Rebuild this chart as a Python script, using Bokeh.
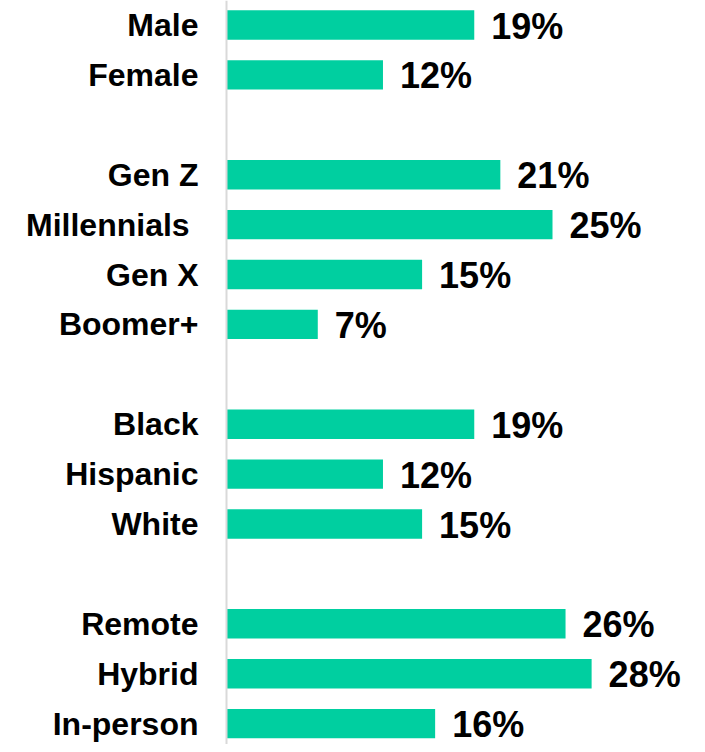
from bokeh.plotting import figure
from bokeh.models import ColumnDataSource, Range1d, Span
from bokeh.core.properties import value
from bokeh.embed import file_html
from bokeh.resources import INLINE

gender = ["Male", "Female"]
gender_vals = [19, 12]
generation = ["Gen Z", "Millennials\u00a0", "Gen X", "Boomer+"]
generation_vals = [21, 25, 15, 7]
race = ["Black", "Hispanic", "White"]
race_vals = [19, 12, 15]
work = ["Remote", "Hybrid", "In-person"]
work_vals = [26, 28, 16]

groups = [(gender, gender_vals), (generation, generation_vals), (race, race_vals), (work, work_vals)]

labels, vals, pos = [], [], []
i = 0
for cats, vs in groups:
    for c, v in zip(cats, vs):
        labels.append(c)
        vals.append(v)
        pos.append(i)
        i += 1
    i += 1  # gap between groups

src = ColumnDataSource(dict(
    label=labels, val=vals, y=pos,
    txt=[f"{v}%" for v in vals],
))

W, H = 697, 744
px_per = 13.04
x0 = 226
pitch = 49.9
top = 24.5

p = figure(width=W, height=H, output_backend="svg", toolbar_location=None,
           x_range=Range1d(-x0 / px_per, (W - x0) / px_per),
           y_range=Range1d((H - top) / pitch, -top / pitch),
           min_border=0, outline_line_color=None, background_fill_color="white")
p.axis.visible = False
p.grid.visible = False

p.add_layout(Span(location=0, dimension="height", line_color="#d9d9d9", line_width=2))

p.hbar(y="y", left=0, right="val", height=0.59, source=src,
       fill_color="#00CFA0", line_color=None)

p.text(x=0, y="y", text="label", source=src, x_offset=-28,
       text_align="right", text_baseline="middle",
       text_font=value("Liberation Sans"), text_font_style="bold",
       text_font_size="32px", text_color="black")

p.text(x="val", y="y", text="txt", source=src, x_offset=17, y_offset=1,
       text_align="left", text_baseline="middle",
       text_font=value("Liberation Sans"), text_font_style="bold",
       text_font_size="36px", text_color="black")

open("out.html", "w").write(file_html(p, INLINE))
